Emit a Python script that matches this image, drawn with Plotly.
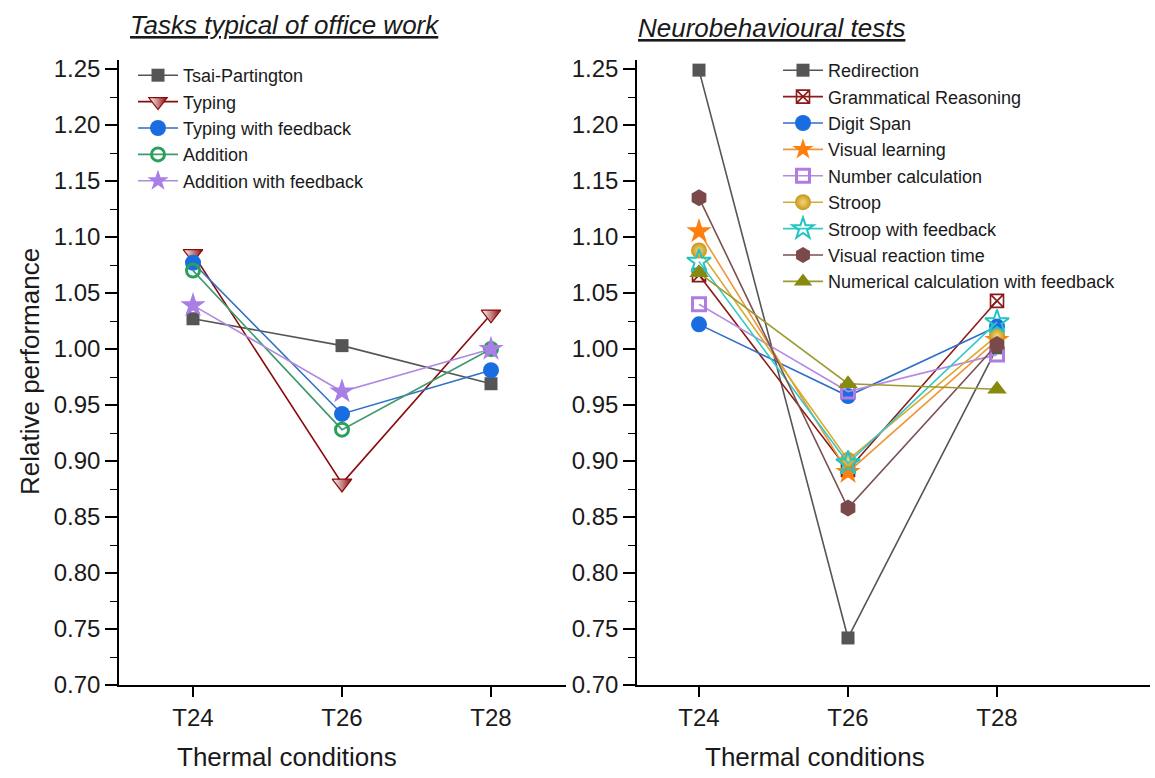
import plotly.graph_objects as go

# Thermal conditions (shared category labels)
conditions = ["T24", "T26", "T28"]

# Tasks typical of office work
tsai_partington = [1.027, 1.003, 0.969]
typing = [1.085, 0.880, 1.031]
typing_feedback = [1.077, 0.942, 0.981]
addition = [1.070, 0.928, 1.000]
addition_feedback = [1.039, 0.962, 1.000]

# Neurobehavioural tests
redirection = [1.249, 0.742, 1.001]
grammatical_reasoning = [1.066, 0.892, 1.043]
digit_span = [1.022, 0.958, 1.020]
visual_learning = [1.105, 0.890, 1.008]
number_calculation = [1.040, 0.962, 0.995]
stroop = [1.088, 0.901, 1.012]
stroop_feedback = [1.078, 0.898, 1.024]
visual_reaction_time = [1.135, 0.858, 1.004]
numerical_feedback = [1.068, 0.969, 0.964]

y_ticks = [0.70, 0.75, 0.80, 0.85, 0.90, 0.95, 1.00, 1.05, 1.10, 1.15, 1.20, 1.25]

W, H = 1155, 778
FONT = "Liberation Sans, Arial, sans-serif"

fig = go.Figure()
xpos = list(range(len(conditions)))


def add_series(name, values, color, marker, xaxis, yaxis, legend, line_color=None):
    fig.add_trace(go.Scatter(
        x=xpos, y=values, name=name, mode="lines+markers",
        line=dict(color=line_color or color, width=1.6),
        marker=marker, xaxis=xaxis, yaxis=yaxis, legend=legend,
    ))


# left panel
add_series("Tsai-Partington", tsai_partington, "#555555",
           dict(symbol="square", size=13, color="#555555"), "x", "y", "legend")
add_series("Typing", typing, "#8b0a0a",
           dict(symbol="triangle-down", size=17, color="#ffffff",
                gradient=dict(type="horizontal", color="#8b0a0a"),
                line=dict(color="#8b0a0a", width=1.2)), "x", "y", "legend")
add_series("Typing with feedback", typing_feedback, "#1a6de0",
           dict(symbol="circle", size=16, color="#1a6de0"), "x", "y", "legend",
           line_color="#2f6fc8")
add_series("Addition", addition, "#2ca05a",
           dict(symbol="circle-open", size=13, color="#2ca05a", line=dict(width=3)),
           "x", "y", "legend", line_color="#3f9a6e")
add_series("Addition with feedback", addition_feedback, "#a97ee6",
           dict(symbol="star", size=19, color="#a97ee6"), "x", "y", "legend",
           line_color="#b08ae0")

# right panel
add_series("Redirection", redirection, "#555555",
           dict(symbol="square", size=13, color="#555555"), "x2", "y2", "legend2")
add_series("Grammatical Reasoning", grammatical_reasoning, "#8b1a1a",
           dict(symbol="square-x-open", size=13, color="#8b1a1a", line=dict(width=1.6)),
           "x2", "y2", "legend2")
add_series("Digit Span", digit_span, "#1a6de0",
           dict(symbol="circle", size=16, color="#1a6de0"), "x2", "y2", "legend2",
           line_color="#2f6fc8")
add_series("Visual learning", visual_learning, "#ff7f0e",
           dict(symbol="star", size=19, color="#ff7f0e"), "x2", "y2", "legend2",
           line_color="#f0963a")
add_series("Number calculation", number_calculation, "#b07ce0",
           dict(symbol="square-open", size=13, color="#b07ce0", line=dict(width=3)),
           "x2", "y2", "legend2", line_color="#b58ae0")
add_series("Stroop", stroop, "#d4a017",
           dict(symbol="circle", size=16, color="#c8961a",
                gradient=dict(type="radial", color="#f3d77a")),
           "x2", "y2", "legend2", line_color="#d9aa30")
add_series("Stroop with feedback", stroop_feedback, "#22c4c4",
           dict(symbol="star-open", size=18, color="#22c4c4", line=dict(width=2)),
           "x2", "y2", "legend2", line_color="#35c8c8")
add_series("Visual reaction time", visual_reaction_time, "#7a4a4a",
           dict(symbol="hexagon", size=17, color="#7a4a4a"), "x2", "y2", "legend2",
           line_color="#7a5050")
add_series("Numerical calculation with feedback", numerical_feedback, "#888a10",
           dict(symbol="triangle-up", size=17, color="#888a10"), "x2", "y2", "legend2",
           line_color="#9a9a30")

px_per_cat = 149.0
left_x0, left_x1 = 119, 566
right_x0, right_x1 = 637, 1150
y_bottom_px, y_top_px = 685, 60
y_min = 0.70
y_max = y_min + (y_bottom_px - y_top_px) / 1120.0

xaxis_common = dict(
    tickvals=xpos, ticktext=conditions, showline=True, linecolor="black",
    linewidth=1.6, ticks="outside", ticklen=10, tickwidth=1.6, tickcolor="black",
    showgrid=False, zeroline=False, automargin=False,
    tickfont=dict(family=FONT, size=24, color="#1a1a1a"),
)
yaxis_common = dict(
    range=[y_min, y_max], tickvals=y_ticks, tickformat=".2f",
    showline=True, linecolor="black", linewidth=1.6,
    ticks="outside", ticklen=12, tickwidth=1.6, tickcolor="black",
    minor=dict(dtick=0.025, tick0=0.70, ticks="outside", ticklen=7,
               tickwidth=1.4, tickcolor="black"),
    showgrid=False, zeroline=False, automargin=False,
    tickfont=dict(family=FONT, size=24, color="#1a1a1a"),
    domain=[1 - y_bottom_px / H, 1 - y_top_px / H],
)

fig.update_layout(
    width=W, height=H, autosize=False,
    margin=dict(l=0, r=0, t=0, b=0, autoexpand=False),
    paper_bgcolor="white", plot_bgcolor="white",
    font=dict(family=FONT, color="#1a1a1a"),
    xaxis=dict(xaxis_common, domain=[left_x0 / W, left_x1 / W],
               range=[-(193 - left_x0) / px_per_cat, 2 + (left_x1 - 491) / px_per_cat],
               anchor="y"),
    yaxis=dict(yaxis_common, anchor="x"),
    xaxis2=dict(xaxis_common, domain=[right_x0 / W, right_x1 / W],
                range=[-(699 - right_x0) / px_per_cat, 2 + (right_x1 - 997) / px_per_cat],
                anchor="y2"),
    yaxis2=dict(yaxis_common, anchor="x2"),
    legend=dict(x=133 / W, y=1 - 57 / H, xanchor="left", yanchor="top",
                bgcolor="rgba(0,0,0,0)", font=dict(family=FONT, size=18, color="#1a1a1a"),
                itemwidth=40, tracegroupgap=0),
    legend2=dict(x=778 / W, y=1 - 52 / H, xanchor="left", yanchor="top",
                 bgcolor="rgba(0,0,0,0)", font=dict(family=FONT, size=18, color="#1a1a1a"),
                 itemwidth=40, tracegroupgap=0),
    showlegend=True,
)

title_font = dict(family="Liberation Sans, Arial", size=26, color="#1a1a1a")
axis_title_font = dict(family=FONT, size=26, color="#1a1a1a")


def paper_text(text, x_px, y_px, font, angle=0):
    fig.add_annotation(text=text, x=x_px / W, y=1 - y_px / H, textangle=angle,
                       xref="paper", yref="paper", xanchor="center", yanchor="middle",
                       showarrow=False, font=font)


paper_text("<i><u>Tasks typical of office work</u></i>", 285, 25, title_font)
paper_text("<i><u>Neurobehavioural tests</u></i>", 771, 28, title_font)
paper_text("Relative performance", 30, 372, axis_title_font, angle=-90)
paper_text("Thermal conditions", 287, 757, axis_title_font)
paper_text("Thermal conditions", 815, 757, axis_title_font)

fig.write_html("out.html")
